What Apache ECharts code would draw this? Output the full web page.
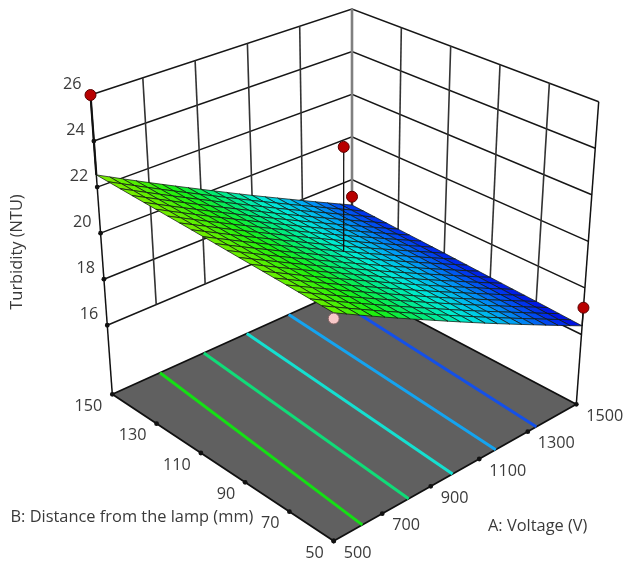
<!DOCTYPE html>
<html><head><meta charset="utf-8">
<style>html,body{margin:0;padding:0;background:#fff}#c{width:626px;height:562px}</style>
<script src="https://cdn.jsdelivr.net/npm/echarts@6/dist/echarts.min.js"></script>
</head><body><div id="c"></div>
<script>
// ---- data ----
const voltageTicks = [500, 700, 900, 1100, 1300, 1500];
const distanceTicks = [50, 70, 90, 110, 130, 150];
const turbidityTicks = [16, 18, 20, 22, 24, 26];
const floorTurbidity = 13;
// predicted turbidity, one row per distance tick, one column per voltage tick
const surface50  = [22.10, 20.95, 19.81, 18.66, 17.52, 16.37];
const surface70  = [22.19, 21.04, 19.90, 18.75, 17.61, 16.46];
const surface90  = [22.27, 21.12, 19.98, 18.83, 17.69, 16.54];
const surface110 = [22.36, 21.21, 20.07, 18.92, 17.78, 16.63];
const surface130 = [22.44, 21.29, 20.15, 19.00, 17.86, 16.71];
const surface150 = [22.53, 21.38, 20.24, 19.09, 17.95, 16.80];
const surfaceRows = [surface50, surface70, surface90, surface110, surface130, surface150];
// design points
const pointVoltage   = [500, 1000, 1500, 1500, 500];
const pointDistance  = [150, 100, 150, 50, 50];
const pointTurbidity = [26, 24.2, 17.19, 17.15, 21.87];
const pointStemBase  = [22.53, 19.67, 16.8, 16.37, null];
// floor contours: voltage where each one meets the B=50 and B=150 edges
const contourAt50  = [618, 809, 990, 1168, 1335];
const contourAt150 = [699, 882, 1061, 1236, 1410];
const contourColors = ['#14e014', '#10dc78', '#14e0d0', '#14a4f0', '#1450e8'];

// ---- view: where the eight box corners appear on the page ----
const cornerFloor = {a0b0:[333.7,541], a1b0:[576.3,404.3], a0b1:[112.3,394.3], a1b1:[352,286]};
const cornerTop   = {a0b0:[333.7,215], a1b0:[598.7,101.7], a0b1:[90.5,95],    a1b1:[352,9]};
const zTop = turbidityTicks[turbidityTicks.length-1];
function bilin(c,u,v,k){
  return (1-v)*((1-u)*c.a0b0[k]+u*c.a1b0[k])+v*((1-u)*c.a0b1[k]+u*c.a1b1[k]);
}
function project(A,B,Z){
  const u=(A-500)/1000, v=(B-50)/100, w=(Z-floorTurbidity)/(zTop-floorTurbidity);
  return [0,1].map(k=>(1-w)*bilin(cornerFloor,u,v,k)+w*bilin(cornerTop,u,v,k));
}
// ---- colour of the response ----
const rampZ = [16.3, 17, 18, 19, 20, 21, 22, 22.6];
const rampC = [[0,0,220],[0,60,240],[0,165,245],[0,235,215],[0,235,120],[24,240,16],[96,240,0],[130,235,0]];
function colourOf(z){
  let i=0; while(i<rampZ.length-2 && z>rampZ[i+1]) i++;
  const t=Math.max(0,Math.min(1,(z-rampZ[i])/(rampZ[i+1]-rampZ[i])));
  const c=rampC[i].map((a,k)=>Math.round(a+(rampC[i+1][k]-a)*t));
  return 'rgb('+c.join(',')+')';
}
// ---- layers ----
const MAJ='#111111', GRID='#161616', TXT='#3a3a3a', FONT='"Open Sans", "Noto Sans", sans-serif';
const floorItems=[], contourItems=[], wallItems=[], stemItems=[], surfaceItems=[], dotItems=[], textItems=[];
const aMin=voltageTicks[0], aMax=voltageTicks[5], bMin=distanceTicks[0], bMax=distanceTicks[5];

floorItems.push({kind:'poly',pts:[project(aMin,bMin,floorTurbidity),project(aMax,bMin,floorTurbidity),project(aMax,bMax,floorTurbidity),project(aMin,bMax,floorTurbidity)],fill:'#606060',stroke:'#101010',lw:1.8});
contourAt50.forEach((a,i)=>contourItems.push({kind:'line',pts:[project(a,bMin,floorTurbidity),project(contourAt150[i],bMax,floorTurbidity)],stroke:contourColors[i],lw:3}));
// walls
turbidityTicks.forEach(z=>{
  wallItems.push({kind:'line',pts:[project(aMin,bMax,z),project(aMax,bMax,z),project(aMax,bMin,z)],stroke:GRID,lw:1.5});
});
voltageTicks.slice(1,5).forEach(a=>wallItems.push({kind:'line',pts:[project(a,bMax,16),project(a,bMax,zTop)],stroke:'#333333',lw:1.6}));
distanceTicks.slice(1,5).forEach(b=>wallItems.push({kind:'line',pts:[project(aMax,b,16),project(aMax,b,zTop)],stroke:'#333333',lw:1.6}));
wallItems.push({kind:'line',pts:[project(aMax,bMax,16),project(aMax,bMax,zTop)],stroke:'#808080',lw:2.6});
wallItems.push({kind:'line',pts:[project(aMin,bMax,floorTurbidity),project(aMin,bMax,zTop)],stroke:MAJ,lw:1.5});
wallItems.push({kind:'line',pts:[project(aMax,bMin,floorTurbidity),project(aMax,bMin,zTop)],stroke:MAJ,lw:1.5});
// surface mesh: each table cell is drawn as four by four mesh facets
function tableValue(fa,fb){
  const i=Math.min(4,Math.floor(fa)), j=Math.min(4,Math.floor(fb)), s=fa-i, t=fb-j;
  return (1-t)*((1-s)*surfaceRows[j][i]+s*surfaceRows[j][i+1])+t*((1-s)*surfaceRows[j+1][i]+s*surfaceRows[j+1][i+1]);
}
const MESH=4, nMesh=5*MESH;
function meshPoint(i,j){
  const fa=i/MESH, fb=j/MESH;
  return project(aMin+(aMax-aMin)*fa/5, bMin+(bMax-bMin)*fb/5, tableValue(fa,fb));
}
for(let j=nMesh-1;j>=0;j--) for(let i=nMesh-1;i>=0;i--){
  surfaceItems.push({kind:'poly',pts:[meshPoint(i,j),meshPoint(i+1,j),meshPoint(i+1,j+1),meshPoint(i,j+1)],
    fill:colourOf(tableValue((i+.5)/MESH,(j+.5)/MESH)),stroke:'rgba(16,24,16,0.75)',lw:1});
}
// design points
pointVoltage.forEach((a,i)=>{
  const b=pointDistance[i], z=pointTurbidity[i], base=pointStemBase[i];
  if(base!==null) stemItems.push({kind:'line',pts:[project(a,b,z),project(a,b,base)],stroke:'#111',lw:i===0?2.2:1.3});
  dotItems.push({kind:'dot',pts:[project(a,b,z)],r:5.5,fill:base!==null?'#b80000':'#f8c8c8',stroke:base!==null?'#5a0000':'#806060',lw:1});
});
// ticks and labels
function tick(p){dotItems.push({kind:'dot',pts:[p],r:2.4,fill:'#111',stroke:'#111',lw:0});}
function label(p,dx,dy,text,align){textItems.push({kind:'text',pts:[p],dx,dy,text,align,size:16.2});}
voltageTicks.forEach(a=>{const p=project(a,bMin,floorTurbidity);tick(p);label(p,10,12,String(a),'left');});
distanceTicks.forEach(b=>{const p=project(aMin,b,floorTurbidity);tick(p);label(p,-10,12,String(b),'right');});
turbidityTicks.forEach(z=>{const p=project(aMin,bMax,z);if(z<zTop)tick(p);label(p,-9,-11,String(z),'right');});
textItems.push({kind:'text',pts:[[488,526]],dx:0,dy:0,text:'A: Voltage (V)',align:'left',size:16.4});
textItems.push({kind:'text',pts:[[10.5,517]],dx:0,dy:0,text:'B: Distance from the lamp (mm)',align:'left',size:16.4});
textItems.push({kind:'text',pts:[[17,252]],dx:0,dy:0,text:'Turbidity (NTU)',align:'center',size:16.4,rot:Math.PI/2});

function render(items){
  return function(params,api){
    const it=items[params.dataIndex], pts=it.pts.map(p=>api.coord(p));
    if(it.kind==='poly') return {type:'polygon',shape:{points:pts},style:{fill:it.fill,stroke:it.stroke,lineWidth:it.lw,lineJoin:'round'}};
    if(it.kind==='line') return {type:'polyline',shape:{points:pts},style:{fill:null,stroke:it.stroke,lineWidth:it.lw}};
    if(it.kind==='dot') return {type:'circle',shape:{cx:pts[0][0],cy:pts[0][1],r:it.r},style:{fill:it.fill,stroke:it.stroke,lineWidth:it.lw}};
    return {type:'text',x:pts[0][0]+it.dx,y:pts[0][1]+it.dy,rotation:it.rot||0,
      style:{text:it.text,fill:TXT,font:it.size+'px '+FONT,align:it.align,verticalAlign:'middle'}};
  };
}
function layer(items){
  return {type:'custom',coordinateSystem:'cartesian2d',clip:false,animation:false,silent:true,progressive:0,
    data:items.map(it=>it.pts[0]),renderItem:render(items)};
}
const chart=echarts.init(document.getElementById('c'),null,{renderer:'canvas'});
chart.setOption({
  backgroundColor:'#ffffff',animation:false,
  grid:{left:0,right:0,top:0,bottom:0},
  xAxis:{type:'value',min:0,max:626,show:false},
  yAxis:{type:'value',min:0,max:562,inverse:true,show:false},
  series:[floorItems,contourItems,wallItems,surfaceItems,stemItems,dotItems,textItems].map(layer)
});
</script></body></html>
